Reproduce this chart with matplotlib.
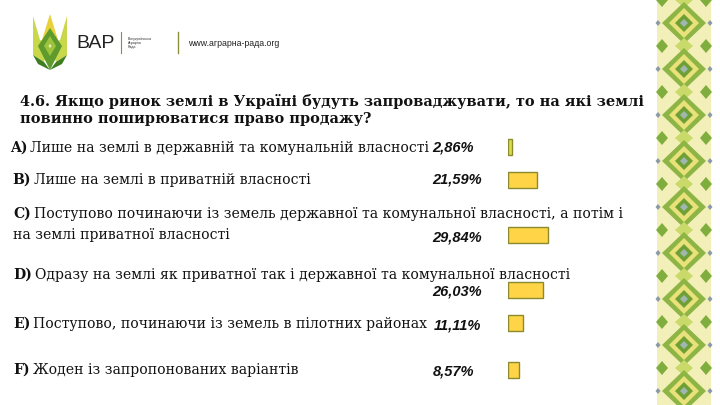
import matplotlib
matplotlib.use("Agg")
import matplotlib.pyplot as plt
from matplotlib.patches import Polygon, Rectangle
import numpy as np

# ---------------- data ----------------
letters = ["A)", "B)", "C)", "D)", "E)", "F)"]
answers = [
    "Лише на землі в державній та комунальній власності",
    "Лише на землі в приватній власності",
    "Поступово починаючи із земель державної та комунальної власності, а потім і\nна землі приватної власності",
    "Одразу на землі як приватної так і державної та комунальної власності",
    "Поступово, починаючи із земель в пілотних районах",
    "Жоден із запропонованих варіантів",
]
values = [2.86, 21.59, 29.84, 26.03, 11.11, 8.57]
value_labels = ["2,86%", "21,59%", "29,84%", "26,03%", "11,11%", "8,57%"]
title = ("4.6. Якщо ринок землі в Україні будуть запроваджувати, то на які землі\n"
         "повинно поширюватися право продажу?")

# ---------------- layout (pixels) ----------------
W, H = 720, 405
bar_y = [147, 180, 235, 290, 323, 370]
text_y = [148, 180, 214, 275, 324, 370]
text_x = [10, 12, 13, 13, 13, 13]
pct_y = [147, 180, 237, 292, 325, 372]
pct_x = [474, 482, 482, 482, 481, 474]
bar_left_px, px_per_pct = 508, 1.34

SERIF = ["DejaVu Serif"]
SANS = ["Liberation Sans", "DejaVu Sans"]
FS = 10.05

fig = plt.figure(figsize=(W / 100, H / 100), dpi=100)
fig.patch.set_facecolor("white")
bg = fig.add_axes([0, 0, 1, 1])
bg.set_xlim(0, W)
bg.set_ylim(H, 0)
bg.axis("off")

# ---------------- logo ----------------
crown = [
    ([(33, 16), (40, 40), (50, 44), (44, 62), (33, 55)], "#c8d84a"),
    ([(50, 14), (42, 40), (50, 48), (58, 40)], "#e8d23c"),
    ([(67, 16), (60, 40), (50, 44), (56, 62), (67, 55)], "#c8d84a"),
    ([(50, 28), (62, 46), (50, 70), (38, 46)], "#5f9a2c"),
    ([(50, 36), (56, 46), (50, 56), (44, 46)], "#9bc43c"),
    ([(33, 55), (44, 62), (50, 70), (38, 64)], "#3f7d22"),
    ([(67, 55), (56, 62), (50, 70), (62, 64)], "#3f7d22"),
]
for pts, c in crown:
    bg.add_patch(Polygon(pts, closed=True, facecolor=c, edgecolor="none"))
bg.add_patch(Polygon([(50, 44), (51.5, 46), (50, 48), (48.5, 46)], facecolor="#f4f0c0", edgecolor="none"))
bg.text(76, 44, "ВАР", fontsize=14, family=SANS, color="#222222", va="center", ha="left")
bg.plot([121, 121], [32, 53], color="#8a8f3a", lw=0.8)
bg.text(128, 43, "Всеукраїнська\nАграрна\nРада", fontsize=2.6, family=SANS,
        color="#333333", va="center", ha="left", linespacing=1.0)
bg.plot([178, 178], [32, 53], color="#8a8f3a", lw=1.0)
bg.text(188, 44, "www.аграрна-рада.org", fontsize=6.3, family=SANS,
        color="#222222", va="center", ha="left")

# ---------------- ornament band ----------------
bx0, bx1, cx = 657, 711, 684
bg.add_patch(Rectangle((bx0, 0), bx1 - bx0, H, facecolor="#f3efb8", edgecolor="none"))
period = 46
for yc in np.arange(-23, H + 46, period):
    bg.add_patch(Polygon([(cx, yc - 21), (cx + 22, yc), (cx, yc + 21), (cx - 22, yc)],
                         facecolor="#8db545", edgecolor="none"))
    bg.add_patch(Polygon([(cx, yc - 15), (cx + 15, yc), (cx, yc + 15), (cx - 15, yc)],
                         facecolor="#e9e27a", edgecolor="none"))
    bg.add_patch(Polygon([(cx, yc - 9), (cx + 9, yc), (cx, yc + 9), (cx - 9, yc)],
                         facecolor="#6f9f35", edgecolor="none"))
    bg.add_patch(Polygon([(cx, yc - 4), (cx + 4, yc), (cx, yc + 4), (cx - 4, yc)],
                         facecolor="#9fb7b0", edgecolor="none"))
    ym = yc + period / 2
    for sx in (bx0 + 5, bx1 - 5):
        bg.add_patch(Polygon([(sx, ym - 7), (sx + 6, ym), (sx, ym + 7), (sx - 6, ym)],
                             facecolor="#7fae3e", edgecolor="none"))
    bg.add_patch(Polygon([(cx, ym - 8), (cx + 9, ym), (cx, ym + 8), (cx - 9, ym)],
                         facecolor="#c9d96a", edgecolor="none"))
    for sx in (bx0 + 1, bx1 - 1):
        bg.add_patch(Polygon([(sx, yc - 3), (sx + 2.5, yc), (sx, yc + 3), (sx - 2.5, yc)],
                             facecolor="#8a9aa8", edgecolor="none"))

# ---------------- title ----------------
bg.text(20, 110, title, fontsize=10.45, fontweight="bold", family=SERIF,
        color="#111111", va="center", ha="left", linespacing=1.35)

# ---------------- category labels ----------------
fig.canvas.draw()
renderer = fig.canvas.get_renderer()
for lt, ans, x, y in zip(letters, answers, text_x, text_y):
    t = bg.text(x, y, lt, fontsize=FS, fontweight="bold", family=SERIF,
                color="#111111", va="center", ha="left")
    bb = t.get_window_extent(renderer)
    if "\n" in ans:
        first, second = ans.split("\n")
        bg.text(x + bb.width + 3, y, first, fontsize=FS, family=SERIF,
                color="#111111", va="center", ha="left")
        bg.text(x, y + 21, second, fontsize=FS, family=SERIF,
                color="#111111", va="center", ha="left")
    else:
        bg.text(x + bb.width + 3, y, ans, fontsize=FS, family=SERIF,
                color="#111111", va="center", ha="left")

# percentages
for lab, x, y in zip(value_labels, pct_x, pct_y):
    bg.text(x, y, lab, fontsize=10.5, fontweight="bold", style="italic", family=SANS,
            color="#111111", va="center", ha="right")

# ---------------- bars ----------------
axw_px = 100 * px_per_pct
bax = fig.add_axes([bar_left_px / W, 0, axw_px / W, 1])
bax.set_xlim(0, 100)
bax.set_ylim(H, 0)
bax.axis("off")
bax.patch.set_alpha(0)
fills = ["#d9e04c"] + ["#ffd446"] * (len(values) - 1)
bax.barh(bar_y, values, height=15.5, left=0, color=fills, edgecolor="#8c8a2e", linewidth=1.0)

fig.savefig("out.png", dpi=100, facecolor="white")
